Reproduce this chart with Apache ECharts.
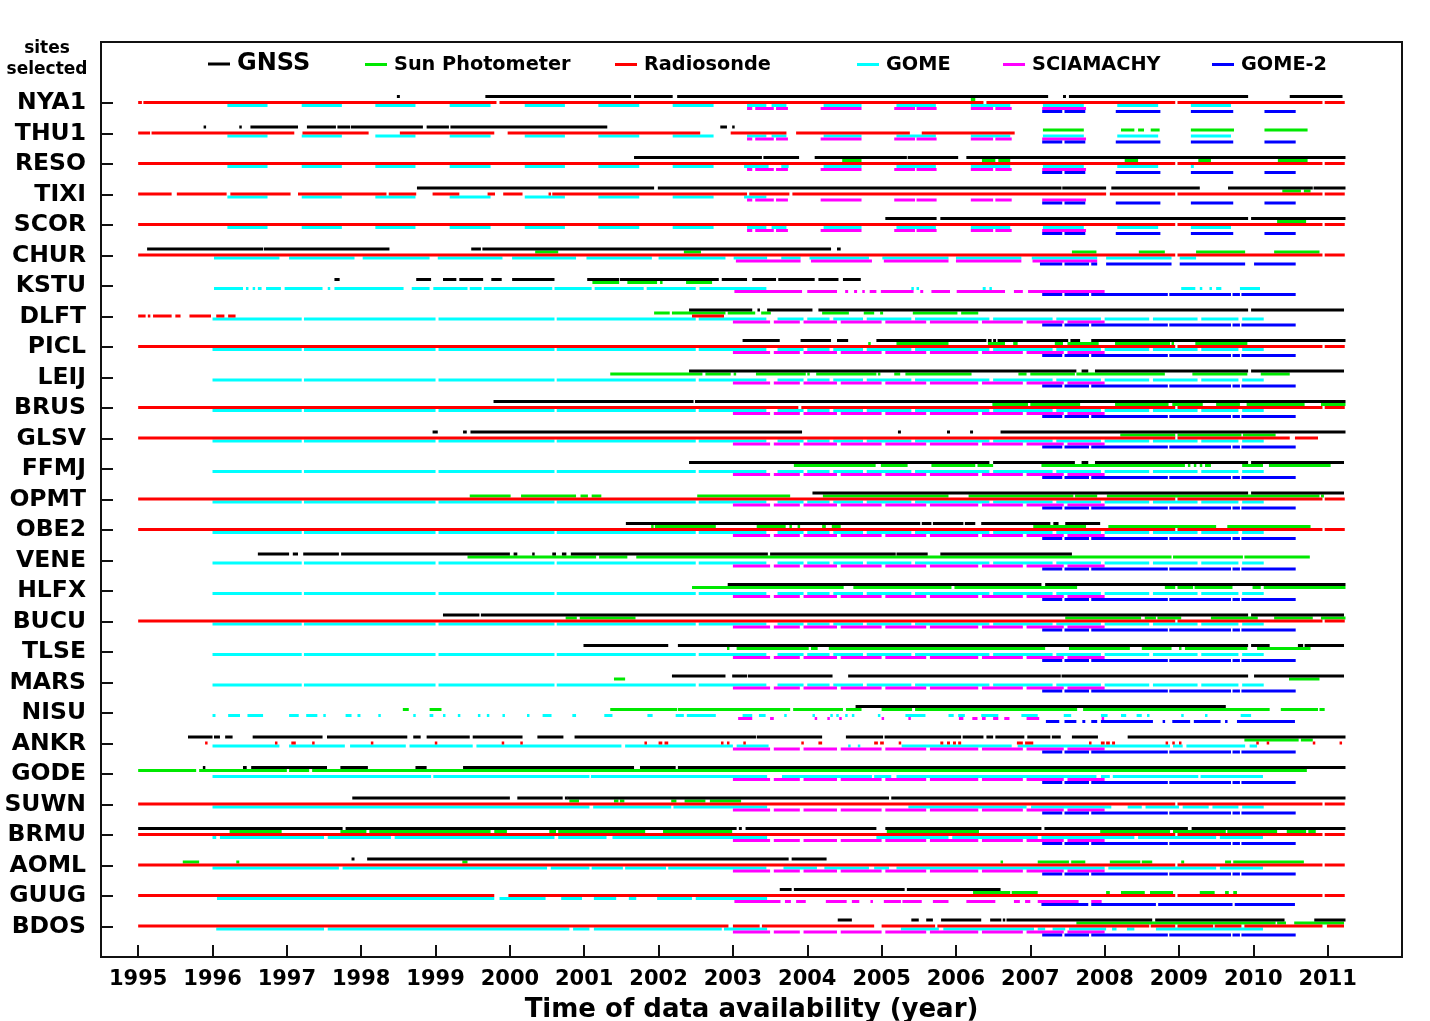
<!DOCTYPE html>
<html>
<head>
<meta charset="utf-8">
<script src="https://cdn.jsdelivr.net/npm/echarts@6/dist/echarts.min.js"></script>
<style>
html,body{margin:0;padding:0;background:#fff;}
#chart{width:1430px;height:1021px;}
</style>
</head>
<body>
<div id="chart"></div>
<script>
// ---------------- DATA ----------------
const sites = ['NYA1','THU1','RESO','TIXI','SCOR','CHUR','KSTU','DLFT','PICL','LEIJ','BRUS','GLSV','FFMJ','OPMT',
  'OBE2','VENE','HLFX','BUCU','TLSE','MARS','NISU','ANKR','GODE','SUWN','BRMU','AOML','GUUG','BDOS'];
const yearTicks = [1995,1996,1997,1998,1999,2000,2001,2002,2003,2004,2005,2006,2007,2008,2009,2010,2011];
const seriesNames = ['GNSS','Sun Photometer','Radiosonde','GOME','SCIAMACHY','GOME-2'];

// GNSS periods [start, end] per site
const gnss = [
  [[1998.48,1998.52],[1999.67,2001.63],[2001.67,2002.19],[2002.25,2007.24],[2007.44,2007.48],[2007.52,2009.93],[2010.49,2011.2]],
  [[1995.88,1995.91],[1996.36,1996.39],[1996.51,1997.15],[1997.27,1997.66],[1997.68,1997.85],[1997.86,1998.83],[1998.88,1999.18],[1999.2,2001.31],[2002.83,2002.92],[2002.99,2003.02]],
  [[2001.67,2003.39],[2003.41,2003.89],[2004.1,2005.34],[2005.35,2006.03],[2006.14,2011.24]],
  [[1998.75,2001.94],[2001.99,2007.42],[2007.43,2008.02],[2008.09,2009.28],[2009.66,2010.8],[2010.81,2011.24]],
  [[2005.05,2005.74],[2005.79,2009.93],[2009.97,2011.24]],
  [[1995.12,1996.68],[1996.69,1998.38],[1999.48,1999.61],[1999.63,2004.32],[2004.4,2004.45]],
  [[1997.64,1997.71],[1998.74,1998.94],[1999.1,1999.28],[1999.32,1999.64],[1999.75,1999.89],[2000.03,2000.6],[2001.04,2001.47],[2001.48,2002.81],[2002.85,2003.19],[2003.26,2003.58],[2003.61,2004.1],[2004.15,2004.42],[2004.48,2004.72]],
  [[2002.41,2003.26],[2003.33,2003.36],[2003.46,2004.07],[2004.15,2009.93],[2009.97,2011.22]],
  [[2003.13,2003.63],[2003.91,2004.32],[2004.4,2004.55],[2004.93,2006.41],[2006.43,2006.48],[2006.5,2006.54],[2006.56,2007.51],[2007.54,2007.67],[2007.82,2011.24]],
  [[2002.41,2007.62],[2007.69,2007.78],[2007.87,2009.93],[2009.97,2011.22]],
  [[1999.78,2002.47],[2002.49,2011.24]],
  [[1998.96,1999.03],[1999.37,1999.42],[1999.47,2003.93],[2005.22,2005.26],[2005.88,2005.92],[2006.19,2006.23],[2006.6,2011.24]],
  [[2002.41,2006.45],[2006.5,2007.6],[2007.69,2007.78],[2007.87,2009.93],[2009.97,2011.22]],
  [[2004.07,2009.93],[2009.97,2011.22]],
  [[2001.56,2005.52],[2005.54,2005.67],[2005.69,2006.1],[2006.12,2006.26],[2006.34,2007.27],[2007.31,2007.38],[2007.47,2007.94]],
  [[1996.61,1997.03],[1997.08,1997.15],[1997.22,1997.7],[1997.73,2000.0],[2000.05,2000.1],[2000.3,2000.33],[2000.57,2000.62],[2000.7,2000.76],[2000.82,2003.47],[2003.5,2005.19],[2005.2,2005.62],[2005.79,2007.56]],
  [[2002.93,2007.15],[2007.2,2011.24]],
  [[1999.1,1999.59],[1999.61,2009.93],[2009.97,2011.22]],
  [[2000.99,2002.13],[2002.26,2009.93],[2009.97,2010.22],[2010.6,2010.67],[2010.69,2011.22]],
  [[2002.18,2002.9],[2002.99,2003.19],[2003.2,2004.34],[2004.55,2007.41],[2007.42,2009.93],[2010.01,2011.22]],
  [[2004.65,2009.63]],
  [[1995.67,1996.0],[1996.02,1996.1],[1996.17,1996.27],[1996.54,1997.48],[1997.54,1998.62],[1998.7,1998.8],[1998.88,1999.46],[1999.5,2000.17],[2000.37,2000.72],[2000.87,2003.31],[2003.32,2004.2],[2004.52,2005.02],[2005.04,2006.07],[2006.09,2006.37],[2006.41,2006.5],[2006.53,2006.92],[2006.96,2007.27],[2007.29,2007.41],[2007.56,2007.91],[2008.31,2011.24]],
  [[1995.87,1995.9],[1996.41,1996.46],[1996.52,1997.54],[1997.72,1998.09],[1998.73,1998.88],[1999.37,2001.67],[2001.75,2002.23],[2002.26,2011.24]],
  [[1997.88,2000.0],[2000.1,2000.71],[2000.74,2000.76],[2000.77,2005.1],[2005.13,2011.24]],
  [[1995.0,1997.75],[1997.79,2003.05],[2003.08,2003.12],[2003.17,2004.93],[2005.05,2007.15],[2007.19,2009.12],[2009.17,2011.24]],
  [[1997.87,1997.91],[1998.08,2003.75],[2003.79,2004.26]],
  [[2003.63,2003.79],[2003.82,2005.31],[2005.34,2006.6]],
  [[2004.41,2004.6],[2005.4,2005.5],[2005.6,2005.69],[2005.8,2006.34],[2006.46,2006.61],[2006.63,2006.66],[2006.68,2008.64],[2008.68,2010.42],[2010.82,2011.24]]
];

// Sun photometer periods per site
const sunPhotometer = [
  [[2006.2,2006.26]],
  [[2007.17,2007.72],[2008.22,2008.4],[2008.45,2008.53],[2008.62,2008.74],[2009.16,2009.74],[2010.15,2010.73]],
  [[2004.47,2004.73],[2006.35,2006.53],[2006.57,2006.73],[2008.27,2008.45],[2009.26,2009.43],[2010.33,2010.73]],
  [[2010.39,2010.64],[2010.68,2010.77]],
  [[2010.32,2010.71]],
  [[2000.34,2000.65],[2002.34,2002.57],[2007.56,2007.89],[2008.46,2008.81],[2009.23,2009.89],[2010.28,2010.89]],
  [[2001.11,2001.47],[2001.58,2001.98],[2002.02,2002.05],[2002.37,2002.72]],
  [[2001.94,2002.15],[2002.18,2002.9],[2002.93,2003.3],[2003.38,2003.51],[2004.2,2004.56],[2004.76,2004.9],[2004.98,2005.02],[2005.42,2006.02],[2006.07,2006.3]],
  [[2004.82,2004.85],[2005.2,2005.9],[2006.43,2006.66],[2006.77,2006.83],[2007.33,2007.44],[2007.5,2007.92],[2008.14,2008.88],[2008.9,2008.93],[2009.22,2009.92]],
  [[2001.35,2002.59],[2002.63,2002.97],[2003.01,2003.04],[2003.31,2003.98],[2004.0,2004.03],[2004.12,2004.93],[2004.95,2004.98],[2005.17,2005.25],[2005.32,2006.21],[2006.84,2006.95],[2007.0,2007.6],[2007.62,2008.81],[2009.18,2009.92],[2010.1,2010.49]],
  [[2006.49,2006.97],[2007.0,2007.67],[2008.14,2008.86],[2008.91,2009.32],[2009.5,2009.82],[2009.91,2010.69],[2010.91,2011.24]],
  [[2008.21,2008.95],[2008.98,2009.84],[2009.86,2010.3]],
  [[2003.82,2004.92],[2004.99,2005.35],[2005.67,2006.26],[2006.29,2006.5],[2007.15,2009.08],[2009.12,2009.15],[2009.2,2009.23],[2009.28,2009.31],[2009.35,2009.43],[2009.85,2010.13],[2010.21,2011.04]],
  [[1999.46,2000.01],[2000.15,2000.89],[2000.95,2001.05],[2001.1,2001.23],[2002.52,2003.77],[2004.21,2005.9],[2006.17,2007.58],[2007.6,2007.9],[2008.03,2010.89],[2010.91,2010.95]],
  [[2001.9,2001.93],[2001.95,2002.77],[2003.32,2003.71],[2003.76,2003.79],[2003.87,2003.9],[2004.2,2004.25],[2004.33,2004.45],[2007.04,2007.75],[2008.05,2009.5],[2009.65,2010.77]],
  [[1999.43,2001.16],[2001.2,2001.58],[2001.7,2008.9],[2008.92,2009.86],[2009.88,2010.76]],
  [[2002.45,2004.49],[2004.62,2005.94],[2005.98,2007.63],[2008.81,2008.95],[2008.98,2009.19],[2009.21,2009.72],[2009.99,2010.1],[2010.14,2011.24]],
  [[2000.75,2000.9],[2000.94,2001.69],[2007.47,2008.49],[2008.54,2008.69],[2008.71,2009.03],[2009.43,2010.06],[2010.28,2010.8],[2010.91,2011.24]],
  [[2002.92,2002.95],[2003.05,2004.02],[2004.05,2004.14],[2004.29,2007.2],[2007.52,2008.34],[2008.5,2008.9],[2009.0,2009.03],[2009.08,2009.92],[2010.05,2010.77]],
  [[2001.4,2001.55],[2010.48,2010.89]],
  [[1998.56,1998.64],[1998.92,1999.08],[2001.35,2002.25],[2002.26,2003.77],[2003.81,2004.48],[2004.52,2004.73],[2005.0,2005.41],[2005.45,2007.63],[2007.71,2010.22],[2010.37,2010.87],[2010.89,2010.96]],
  [[2009.88,2010.61],[2010.64,2010.8]],
  [[1995.0,1995.78],[1995.82,1997.0],[1997.03,1997.3],[1997.34,2010.72]],
  [[2000.8,2000.93],[2001.4,2001.46],[2001.48,2001.54],[2002.17,2002.24],[2002.35,2002.63],[2002.69,2003.11]],
  [[1996.23,1996.93],[1997.72,1998.07],[1998.11,1999.74],[1999.79,1999.96],[2000.53,2000.62],[2000.65,2001.82],[2002.06,2002.99],[2005.07,2006.31],[2007.94,2008.88],[2008.92,2009.63],[2009.65,2010.32],[2010.45,2010.71],[2010.74,2010.84]],
  [[1995.6,1995.82],[1996.32,1996.36],[1999.36,1999.43],[2006.6,2006.63],[2007.1,2007.52],[2007.55,2007.74],[2008.07,2008.48],[2008.5,2008.64],[2009.03,2009.07],[2009.62,2009.7],[2009.73,2010.68]],
  [[2006.23,2006.73],[2006.75,2007.1],[2008.02,2008.07],[2008.22,2008.54],[2008.61,2008.92],[2009.28,2009.48],[2009.62,2009.67],[2009.73,2009.78]],
  [[2007.62,2010.3],[2010.32,2010.44],[2010.55,2011.22]]
];

// Radiosonde periods
const raobFull = [[1995.0,2008.95],[2008.98,2010.93],[2010.96,2011.23]];
const raobAnkr = [[1995.9,1995.93],[1996.84,1996.87],[1997.06,1997.12],[1997.34,1997.37],[1998.13,1998.16],[1998.99,1999.02],[1999.89,1999.92],[2000.14,2000.17],[2001.81,2001.84],[2002.0,2002.05],[2002.08,2002.13],[2002.84,2002.87],[2002.92,2002.95],[2003.14,2003.17],[2003.92,2003.95],[2004.15,2004.2],[2004.9,2004.95],[2004.98,2005.03],[2005.23,2005.26],[2005.79,2005.83],[2005.88,2005.92],[2005.96,2006.0],[2006.03,2006.07],[2006.82,2006.9],[2006.93,2007.04],[2007.79,2007.82],[2007.95,2008.0],[2008.02,2008.07],[2008.1,2008.14],[2008.82,2008.85],[2008.91,2008.94],[2009.0,2009.03],[2010.04,2010.07],[2010.18,2010.21],[2010.8,2010.83],[2011.16,2011.19]];
const radiosonde = [
  [[1995.0,1995.05],[1995.07,1999.82],[1999.86,2006.37],[2006.41,2008.95],[2008.98,2010.93],[2010.96,2011.23]],
  [[1995.0,1995.16],[1995.18,1997.1],[1997.21,1998.1],[1998.52,1999.79],[1999.97,2002.56],[2002.97,2003.72],[2003.85,2005.38],[2005.54,2006.79]],
  raobFull,
  [[1995.0,1995.45],[1995.52,1996.19],[1996.24,1997.05],[1997.15,1998.34],[1998.37,1998.74],[1998.96,1999.32],[1999.7,1999.8],[1999.91,2000.17],[2000.52,2000.55],[2000.57,2003.19],[2003.22,2003.76],[2003.8,2008.02],[2008.07,2008.95],[2008.98,2010.93],[2010.96,2011.23]],
  raobFull,
  raobFull,
  [],
  [[1995.0,1995.1],[1995.13,1995.16],[1995.2,1995.45],[1995.5,1995.57],[1995.69,1995.98],[1996.05,1996.16],[1996.21,1996.31],[2002.45,2002.88]],
  raobFull,
  [],
  [[1995.0,2003.88],[2003.92,2008.95],[2008.98,2010.93],[2010.96,2011.23]],
  [[1995.0,2008.95],[2008.98,2010.49],[2010.56,2010.87]],
  [],
  raobFull,
  raobFull,
  [],
  [],
  raobFull,
  [],
  [],
  [],
  raobAnkr,
  [],
  raobFull,
  raobFull,
  raobFull,
  [[1995.0,1999.79],[1999.98,2008.95],[2008.98,2010.93],[2010.96,2011.23]],
  [[1995.0,2002.94],[2003.0,2003.36],[2003.39,2004.9],[2005.0,2005.72],[2005.75,2008.6],[2008.62,2008.95],[2008.98,2009.46],[2009.48,2009.84],[2009.88,2010.93],[2010.99,2011.22]]
];

// GOME periods
const gomeHigh = [[1996.2,1996.74],[1997.2,1997.74],[1998.19,1998.73],[1999.19,1999.74],[2000.2,2000.74],[2001.19,2001.74],[2002.19,2002.74],[2003.19,2003.45],[2003.52,2003.72],[2004.22,2004.73],[2005.2,2005.73],[2006.2,2006.73],[2007.17,2007.72],[2008.17,2008.72],[2009.16,2009.7]];
const gomeReso = [[1996.2,1996.74],[1997.2,1997.74],[1998.19,1998.73],[1999.19,1999.74],[2000.2,2000.74],[2001.19,2001.74],[2002.19,2002.74],[2003.15,2003.48],[2003.65,2003.75],[2004.22,2004.73],[2005.2,2005.73],[2006.2,2006.73],[2007.17,2007.72],[2008.17,2008.72],[2009.16,2009.2]];
const gomeTixi = [[1996.2,1996.74],[1997.2,1997.74],[1998.19,1998.73],[1999.19,1999.74],[2000.2,2000.74],[2001.19,2001.74],[2002.19,2002.74],[2003.15,2003.45]];
const gomeChur = [[1996.02,1996.9],[1997.03,1997.91],[1998.02,1998.92],[1999.03,1999.9],[2000.03,2000.89],[2001.03,2001.91],[2002.0,2002.9],[2003.01,2003.46],[2003.65,2003.91],[2004.03,2004.83],[2005.01,2005.9],[2006.0,2006.88],[2007.02,2007.9],[2008.02,2008.9],[2009.01,2009.23]];
const gomeKstu = [[1996.02,1996.41],[1996.45,1996.48],[1996.54,1996.57],[1996.61,1996.66],[1996.72,1996.92],[1996.97,1997.48],[1997.55,1997.58],[1997.64,1998.57],[1998.68,1998.92],[1998.97,1999.43],[1999.46,1999.62],[1999.65,2000.57],[2000.6,2001.1],[2001.14,2001.8],[2001.84,2002.5],[2002.55,2003.45],[2005.4,2005.43],[2005.47,2005.5],[2006.36,2006.4],[2006.45,2006.48],[2009.03,2009.22],[2009.28,2009.3],[2009.41,2009.43],[2009.5,2009.57],[2009.82,2010.09]];
const gomeEur = [[1996.0,1997.2],[1997.23,1999.0],[1999.04,2000.6],[2000.63,2002.5],[2002.54,2003.45],[2003.6,2003.95],[2004.0,2004.3],[2004.35,2004.75],[2004.8,2005.4],[2005.45,2006.45],[2006.5,2007.3],[2007.35,2007.95],[2008.0,2008.6],[2008.65,2009.25],[2009.3,2009.8],[2009.85,2010.14]];
const gomeNisu = [[1996.0,1996.04],[1996.21,1996.37],[1996.47,1996.68],[1997.03,1997.16],[1997.26,1997.41],[1997.49,1997.52],[1997.79,1997.87],[1997.95,1997.99],[1998.23,1998.26],[1998.7,1998.73],[1998.92,1998.97],[1999.1,1999.13],[1999.3,1999.33],[1999.57,1999.6],[1999.69,1999.72],[1999.9,1999.93],[2000.23,2000.26],[2000.44,2000.56],[2000.84,2000.89],[2001.27,2001.38],[2001.85,2001.92],[2002.23,2002.34],[2002.38,2002.77],[2003.13,2003.26],[2003.35,2003.44],[2003.69,2003.72],[2004.07,2004.1],[2004.31,2004.34],[2004.39,2004.42],[2004.51,2004.54],[2004.6,2004.63],[2004.95,2004.98],[2005.32,2005.59],[2005.9,2005.97],[2006.03,2006.12],[2006.34,2006.57],[2006.88,2007.1],[2007.45,2007.55],[2007.95,2008.04],[2008.22,2008.29],[2008.43,2008.5],[2008.57,2008.6],[2009.03,2009.06],[2009.35,2009.38],[2009.83,2009.97]];
const gomeAnkr = [[1996.0,1996.9],[1997.03,1997.78],[1997.85,1998.6],[1998.65,1999.5],[1999.55,2001.5],[2001.55,2003.0],[2003.05,2003.48],[2004.55,2004.58],[2004.68,2004.71],[2005.27,2006.75],[2006.83,2008.88],[2008.92,2009.05],[2009.1,2009.89],[2009.95,2010.05]];
const gomeGode = [[1996.0,1998.94],[1998.97,2001.07],[2001.09,2003.46],[2003.66,2004.87],[2004.9,2005.13],[2005.2,2007.89],[2007.95,2008.07],[2008.11,2009.26],[2009.29,2010.13]];
const gomeSuwn = [[1996.0,2001.07],[2001.12,2002.17],[2002.2,2003.46],[2005.36,2006.95],[2007.01,2008.09],[2008.31,2008.5],[2008.55,2009.0],[2009.05,2009.4],[2009.45,2009.8],[2009.85,2010.14]];
const gomeBrmu = [[1996.0,1996.05],[1996.1,1997.5],[1997.55,1998.4],[1998.45,2000.6],[2000.65,2001.3],[2001.38,2003.46],[2004.93,2005.9],[2005.95,2007.1],[2007.15,2008.4],[2008.45,2009.5],[2009.55,2010.13]];
const gomeAoml = [[1996.0,1997.7],[1997.75,2000.5],[2000.55,2001.07],[2001.1,2001.52],[2001.55,2002.1],[2002.13,2003.45],[2003.68,2004.13],[2004.23,2004.83],[2004.9,2005.1],[2005.2,2008.0],[2008.05,2009.5],[2009.55,2010.13]];
const gomeGuug = [[1996.06,1999.79],[1999.86,2000.48],[2000.69,2000.97],[2001.13,2001.43],[2001.6,2001.7],[2001.98,2002.45],[2002.5,2003.46]];
const gomeBdos = [[1996.05,1997.5],[1997.55,2000.8],[2000.85,2001.07],[2001.13,2002.85],[2002.88,2003.46],[2005.26,2005.77],[2005.83,2007.05],[2007.1,2007.2],[2007.3,2007.47],[2007.52,2008.02],[2008.1,2008.16],[2008.3,2008.4],[2008.69,2010.13]];
const gome = [gomeHigh,gomeHigh,gomeReso,gomeTixi,gomeHigh,gomeChur,gomeKstu,
  gomeEur,gomeEur,gomeEur,gomeEur,gomeEur,gomeEur,gomeEur,gomeEur,gomeEur,gomeEur,gomeEur,gomeEur,gomeEur,
  gomeNisu,gomeAnkr,gomeGode,gomeSuwn,gomeBrmu,gomeAoml,gomeGuug,gomeBdos];

// SCIAMACHY periods
const sciaHigh = [[2003.19,2003.26],[2003.3,2003.55],[2003.58,2003.74],[2004.18,2004.73],[2005.17,2005.45],[2005.47,2005.74],[2006.2,2006.5],[2006.53,2006.75],[2007.16,2007.75]];
const sciaChur = [[2003.04,2003.91],[2004.05,2004.87],[2005.03,2005.9],[2006.0,2006.88],[2007.03,2007.9]];
const sciaMid = [[2003.0,2003.5],[2003.55,2003.9],[2003.95,2004.4],[2004.45,2005.0],[2005.05,2005.6],[2005.65,2006.3],[2006.35,2006.9],[2006.95,2007.45],[2007.5,2008.0]];
const sciaKstu = [[2003.02,2003.93],[2004.0,2004.4],[2004.51,2004.55],[2004.63,2004.67],[2004.74,2004.77],[2004.84,2004.93],[2004.99,2005.43],[2005.52,2005.56],[2005.67,2005.92],[2006.01,2006.66],[2006.78,2006.9],[2006.97,2008.0]];
const sciaNisu = [[2003.07,2003.26],[2003.5,2003.55],[2004.1,2004.13],[2004.27,2004.3],[2004.43,2004.46],[2005.0,2005.03],[2005.36,2005.39],[2006.04,2006.1],[2006.22,2006.29],[2006.35,2006.4],[2006.5,2006.57],[2006.65,2006.72],[2006.95,2007.12],[2007.96,2007.99]];
const sciaGuug = [[2003.02,2003.64],[2003.7,2003.78],[2003.85,2003.98],[2004.25,2004.53],[2004.6,2004.7],[2004.85,2004.88],[2005.03,2005.26],[2005.28,2005.54],[2005.69,2005.9],[2006.14,2006.53],[2006.78,2006.86],[2006.93,2007.0],[2007.1,2007.65],[2007.82,2007.96]];
const sciamachy = [sciaHigh,sciaHigh,sciaHigh,sciaHigh,sciaHigh,sciaChur,sciaKstu,
  sciaMid,sciaMid,sciaMid,sciaMid,sciaMid,sciaMid,sciaMid,sciaMid,sciaMid,sciaMid,sciaMid,sciaMid,sciaMid,
  sciaNisu,sciaMid,sciaMid,sciaMid,sciaMid,sciaMid,sciaGuug,sciaMid];

// GOME-2 periods
const gome2High = [[2007.16,2007.43],[2007.46,2007.74],[2008.15,2008.75],[2009.16,2009.73],[2010.15,2010.57]];
const gome2Chur = [[2007.13,2007.43],[2007.46,2007.79],[2007.82,2007.9],[2008.02,2008.9],[2009.01,2009.89],[2010.01,2010.57]];
const gome2Mid = [[2007.16,2007.43],[2007.46,2007.79],[2007.82,2008.85],[2008.87,2009.7],[2009.72,2009.82],[2009.84,2010.57]];
const gome2Nisu = [[2007.21,2007.39],[2007.46,2007.62],[2007.7,2007.74],[2007.82,2007.9],[2007.95,2008.65],[2008.78,2008.8],[2008.91,2009.15],[2009.2,2009.56],[2009.62,2009.65],[2009.78,2010.56]];
const gome2Guug = [[2007.15,2007.78],[2007.82,2008.69],[2008.72,2009.72],[2009.75,2010.56]];
const gome2 = [gome2High,gome2High,gome2High,gome2High,gome2High,gome2Chur,gome2Mid,
  gome2Mid,gome2Mid,gome2Mid,gome2Mid,gome2Mid,gome2Mid,gome2Mid,gome2Mid,gome2Mid,gome2Mid,gome2Mid,gome2Mid,gome2Mid,
  gome2Nisu,gome2Mid,gome2Mid,gome2Mid,gome2Mid,gome2Mid,gome2Guug,gome2Mid];

// ---------------- STYLE ----------------
const FONT = 'DejaVu Sans';
const colors = ['#000000','#00e800','#ff0000','#00ffff','#ff00ff','#0000ff'];
const rowOffsetPx = [-6.5,-3.5,-0.5,2.5,5.5,8.5];
const datasets = [gnss, sunPhotometer, radiosonde, gome, sciamachy, gome2];
const legendLeft = [208,365,615,857,1003,1212];

function toItems(perSite){
  const out = [];
  perSite.forEach((segs, row) => segs.forEach(s => out.push([s[0], s[1], row])));
  return out;
}
function makeRender(dy, color){
  return function(params, api){
    const a = api.coord([api.value(0), api.value(2)]);
    const b = api.coord([api.value(1), api.value(2)]);
    const w = Math.max(b[0]-a[0], 2.5);
    return {type:'rect', shape:{x:a[0], y:a[1]+dy-1.5, width:w, height:3}, style:{fill:color}};
  };
}

const drawOrder = [3,4,5,1,2,0];
const series = drawOrder.map(k => ({
  type:'custom', name:seriesNames[k], renderItem:makeRender(rowOffsetPx[k], colors[k]),
  itemStyle:{color:colors[k]}, encode:{x:[0,1], y:2}, data:toItems(datasets[k]), z:2+drawOrder.indexOf(k),
  animation:false, clip:true
}));

const legends = seriesNames.map((n,k) => ({
  data:[n], left:legendLeft[k], top: k===0 ? 52 : 55, padding:0, itemWidth:22, itemHeight:3, icon:'rect',
  itemGap:0, selectedMode:false,
  textStyle:{fontFamily:FONT, fontWeight:'bold', fontSize: k===0 ? 24 : 19.3, color:'#000', padding:[0,0,0,2]}
}));

const chart = echarts.init(document.getElementById('chart'), null, {renderer:'canvas'});
chart.setOption({
  backgroundColor:'#fff',
  animation:false,
  grid:{left:101, right:28, top:42, bottom:64, show:true, borderColor:'#111', borderWidth:2, backgroundColor:'transparent', outerBoundsMode:'none', containLabel:false},
  legend: legends,
  xAxis:{
    type:'value', min:1994.5, max:2012,
    name:'Time of data availability (year)', nameLocation:'middle', nameGap:40,
    nameTextStyle:{fontFamily:FONT, fontWeight:'bold', fontSize:26, color:'#000'},
    axisLine:{show:true, onZero:false, lineStyle:{color:'#111', width:2}},
    axisTick:{show:true, inside:true, length:12, lineStyle:{color:'#111', width:2}, customValues: yearTicks.concat([2012])},
    axisLabel:{show:true, margin:12, fontFamily:FONT, fontWeight:'bold', fontSize:21, color:'#000', customValues: yearTicks, formatter: v => String(v)},
    splitLine:{show:false}
  },
  yAxis:{
    type:'value', min:-2, max:28, inverse:true,
    axisLine:{show:true, onZero:false, lineStyle:{color:'#111', width:2}},
    axisTick:{show:true, inside:true, length:12, lineStyle:{color:'#111', width:2}, customValues: sites.map((s,i)=>i)},
    axisLabel:{show:true, margin:15, padding:[4,0,0,0], fontFamily:FONT, fontWeight:'bold', fontSize:23.5, color:'#000', customValues: sites.map((s,i)=>i), formatter: v => sites[Math.round(v)] || ''},
    splitLine:{show:false}
  },
  graphic:[{
    type:'text', left:6, top:38,
    style:{text:'sites\nselected', font:'bold 17px "DejaVu Sans"', fill:'#000', textAlign:'center', lineHeight:21, width:82, align:'center'}
  }],
  series: series
});
</script>
</body>
</html>
